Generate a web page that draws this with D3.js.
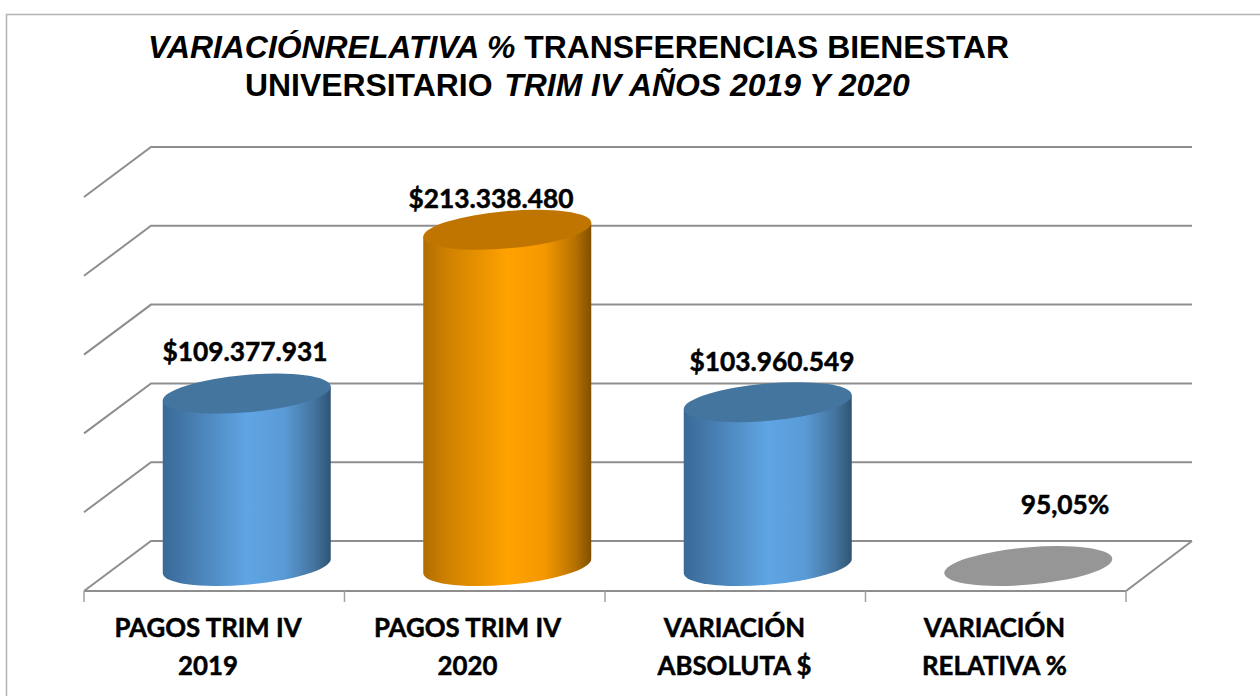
<!DOCTYPE html>
<html><head><meta charset="utf-8">
<script src="https://cdn.jsdelivr.net/npm/d3@7"></script>
<style>html,body{margin:0;padding:0;background:#fff}svg{display:block}</style></head>
<body><svg id="c" width="1260" height="696"></svg>
<script>
const categories=[["PAGOS TRIM IV","2019"],["PAGOS TRIM IV","2020"],["VARIACIÓN","ABSOLUTA $"],["VARIACIÓN","RELATIVA %"]];
const values=[109377931,213338480,103960549,95.05];
const valueLabels=["$109.377.931","$213.338.480","$103.960.549","95,05%"];
const seriesColors=["blue","orange","blue","grey"];
const yTicks=[0,50000000,100000000,150000000,200000000,250000000];

const svg=d3.select("#c");
const depthX=67, depthY=50;
const x=d3.scaleBand().domain(d3.range(4)).range([84,1126]);
const y=d3.scaleLinear().domain([0,250000000]).range([591,197]);
const grid="#8e8e8e";

const defs=svg.append("defs");
function grad(id,stops){
  const g=defs.append("linearGradient").attr("id",id);
  stops.forEach(s=>g.append("stop").attr("offset",s[0]).attr("stop-color",s[1]));
}
grad("blue",[[0,"#386a98"],[0.12,"#4377a8"],[0.5,"#5fa5e4"],[0.72,"#5a9bd6"],[0.9,"#44749f"],[1,"#2f5474"]]);
grad("orange",[[0,"#b06d00"],[0.12,"#cb7e00"],[0.5,"#ffa200"],[0.72,"#f59800"],[0.9,"#b87200"],[1,"#805000"]]);
const topColor={blue:"#44759f",orange:"#c07500",grey:"#969696"};

svg.append("path").attr("d","M6.5,696V14.5H1260").attr("fill","none").attr("stroke","#b4b4b4").attr("stroke-width",1.5);

const gridG=svg.append("g").attr("fill","none").attr("stroke",grid).attr("stroke-width",2);
yTicks.forEach(t=>{
  const y0=y(t);
  gridG.append("path").attr("d",`M84,${y0}L${84+depthX},${y0-depthY}L${1126+depthX-1},${y0-depthY}`);
});
gridG.append("path").attr("d",`M84,591H1126L${1126+depthX-1},541`);
const ticks=svg.append("g").attr("stroke","#a0a0a0").attr("stroke-width",1.5);
d3.range(5).forEach(i=>{
  const px=84+i*x.bandwidth();
  ticks.append("line").attr("x1",px).attr("x2",px).attr("y1",591).attr("y2",602);
});

const W=84,H=20,off=7;
const mid=(W*W+H*H)/2, half=(W*W-H*H)/2, cov=-off*W;
const root=Math.sqrt(half*half+cov*cov);
const rx=Math.sqrt(mid+root), ry=Math.sqrt(mid-root);
const rot=0.5*Math.atan2(2*cov,W*W-H*H)*180/Math.PI;
values.forEach((v,i)=>{
  const cx=x(i)+x.bandwidth()/2+depthX/2-1;
  const base=y(0)-depthY/2;
  const top=y(i===3?0:v)-depthY/2;
  const k=seriesColors[i];
  if(i!==3){
    svg.append("path")
      .attr("d",`M${cx-W},${top+off}V${base+off}A${rx},${ry} ${rot} 0 0 ${cx+W},${base-off}V${top-off}Z`)
      .attr("fill",`url(#${k})`);
  }
  svg.append("ellipse").attr("rx",rx).attr("ry",ry)
    .attr("transform",`translate(${cx},${top}) rotate(${rot})`).attr("fill",topColor[k]);
});
const labelX=[245,491,772,1065], labelY=[361,208,371,514];
valueLabels.forEach((t,i)=>{
  svg.append("text").attr("x",labelX[i]).attr("y",labelY[i])
    .attr("text-anchor","middle").attr("font-family","Lato, sans-serif").attr("font-weight",700)
    .attr("font-size",26.3).attr("fill","#000").attr("stroke","#000").attr("stroke-width",0.5).text(t);
});

const catX=[208,467.5,734.5,994.5];
categories.forEach((c,i)=>{
  c.forEach((line,j)=>svg.append("text").attr("x",catX[i]).attr("y",637+j*37.5)
    .attr("text-anchor","middle").attr("font-family","Lato, sans-serif").attr("font-weight",700)
    .attr("font-size",25.8).attr("fill","#000").attr("stroke","#000").attr("stroke-width",0.5).text(line));
});

const title=svg.append("g").attr("font-family","'Liberation Sans', Arial, sans-serif").attr("font-weight",700).attr("font-size",31.9).attr("fill","#000");
const t1=title.append("text").attr("x",148).attr("y",58);
t1.append("tspan").attr("font-style","italic").text("VARIACIÓNRELATIVA %");
t1.append("tspan").text(" TRANSFERENCIAS BIENESTAR");
const t2=title.append("text").attr("x",245).attr("y",96);
t2.append("tspan").text("UNIVERSITARIO ");
t2.append("tspan").attr("font-style","italic").attr("dx",3).text("TRIM IV AÑOS 2019 Y 2020");
</script></body></html>
